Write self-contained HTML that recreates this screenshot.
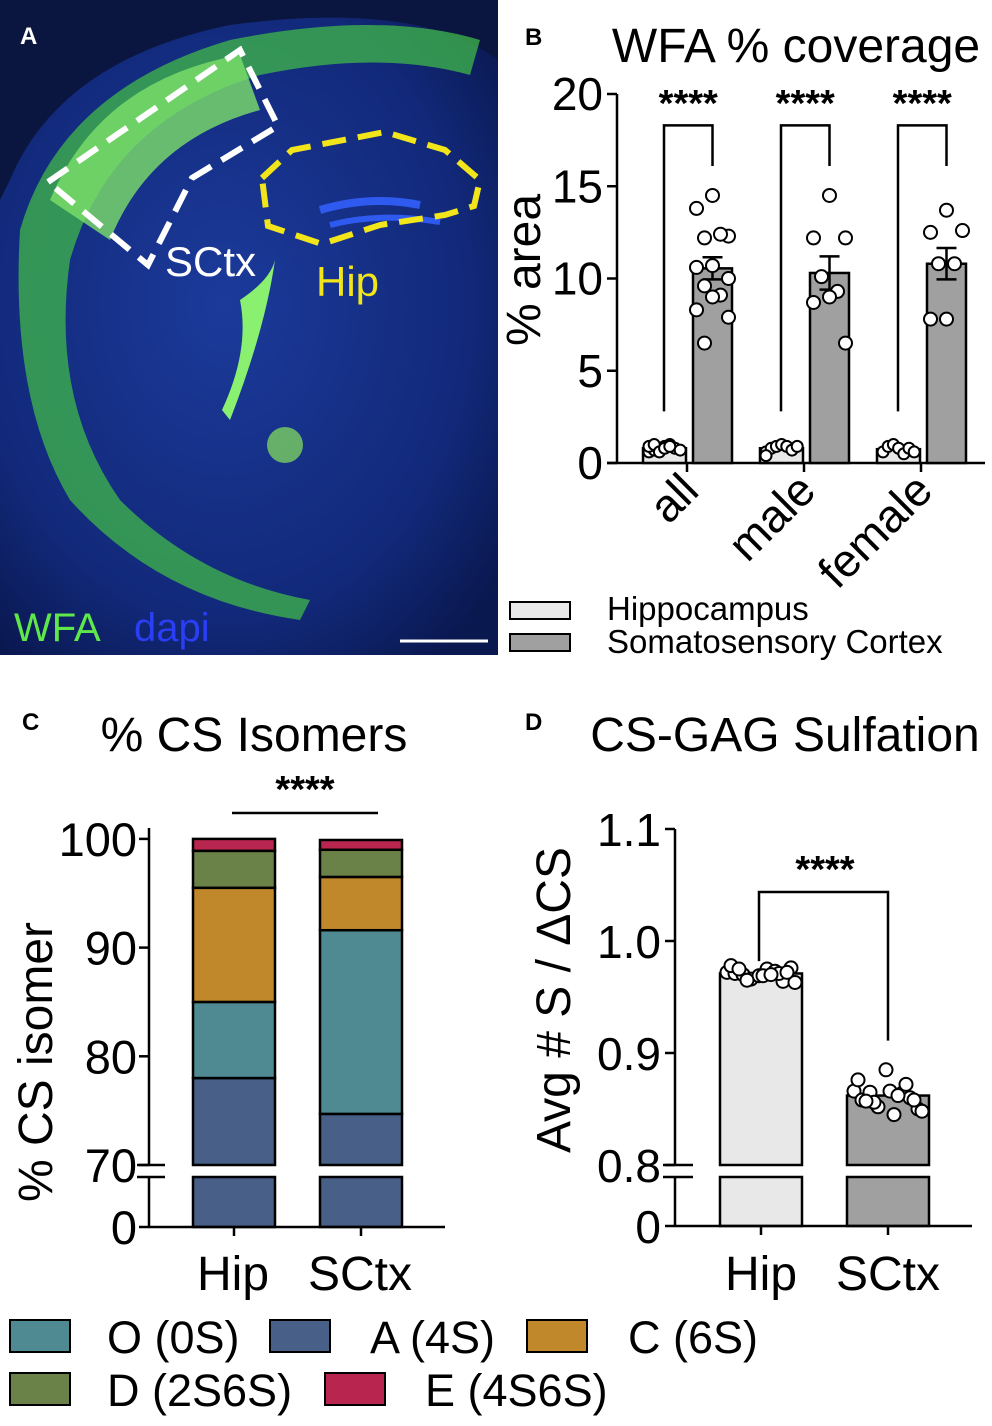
<!DOCTYPE html>
<html><head><meta charset="utf-8">
<style>
body{margin:0;background:#fff;width:992px;height:1426px;overflow:hidden;font-family:"Liberation Sans",sans-serif}
svg{position:absolute;left:0;top:0}
</style></head>
<body>
<svg id="fig" width="992" height="1426" viewBox="0 0 992 1426" xmlns="http://www.w3.org/2000/svg" font-family="Liberation Sans, DejaVu Sans, sans-serif">
<defs>
<radialGradient id="brain" cx="0.45" cy="0.45" r="0.7">
<stop offset="0" stop-color="#1b3a9a"/><stop offset="0.7" stop-color="#12297a"/><stop offset="1" stop-color="#0a1850"/>
</radialGradient>
</defs>
<g>
<rect x="0" y="0" width="498" height="655" fill="#0a163f"/>
<path d="M10,180 Q60,60 230,25 Q420,0 498,60 L498,655 L0,655 L0,200 Z" fill="url(#brain)"/>
<path d="M20,230 Q60,90 230,40 Q380,10 480,40 L470,75 Q380,50 260,75 Q110,120 70,260 Q50,400 120,500 Q200,580 310,600 L300,620 Q160,600 70,500 Q10,400 20,230 Z" fill="#3fb84a" opacity="0.75"/>
<path d="M50,200 Q100,80 240,55 L260,110 Q150,140 110,240 Z" fill="#7de06a" opacity="0.8"/>
<path d="M240,300 Q270,280 275,260 Q265,330 230,420 L222,410 Q250,350 240,300 Z" fill="#8af070"/>
<circle cx="285" cy="445" r="18" fill="#7bd060" opacity="0.8"/>
<path d="M320,210 Q370,195 420,205" stroke="#2f5af0" stroke-width="8" fill="none"/>
<path d="M330,225 Q380,212 440,222" stroke="#2f5af0" stroke-width="6" fill="none"/>
<path d="M48,182 L240,50 L278,126 L192,178 L148,265 Z" fill="none" stroke="#fff" stroke-width="6" stroke-dasharray="24,12"/>
<path d="M262,178 L292,150 L385,132 L445,150 L480,180 L474,206 L445,215 L380,225 L322,244 L268,226 Z" fill="none" stroke="#f2e51a" stroke-width="6" stroke-dasharray="24,12"/>
<text x="20" y="44" font-size="24" font-weight="bold" fill="#fff">A</text>
<text x="165" y="276" font-size="42" fill="#fff">SCtx</text>
<text x="316" y="296" font-size="42" fill="#f2e51a">Hip</text>
<text x="14" y="641" font-size="40" fill="#5fe84a">WFA</text>
<text x="134" y="641" font-size="40" fill="#2a3ef5">dapi</text>
<line x1="400" y1="641" x2="488" y2="641" stroke="#fff" stroke-width="3"/>
</g>
<g id="pb"></g>
<g id="pc"></g>
<g id="pd"></g>
</svg>
<script>
const NS="http://www.w3.org/2000/svg";
function mk(p,tag,a,txt){const e=document.createElementNS(NS,tag);for(const k in a)e.setAttribute(k,a[k]);if(txt!==undefined)e.textContent=txt;p.appendChild(e);return e;}

// ---------- Panel B data ----------
const bGroups=["all","male","female"];
const bHipMeans=[0.8,0.8,0.75];
const bCtxMeans=[10.55,10.3,10.8];
const bCtxSem=[0.6,0.9,0.85];
const bHipPts=[[0.6,0.7,0.8,0.9,1.0,0.8,0.7,0.9,1.0,0.6,0.8,0.9],[0.6,0.8,0.9,1.0,0.9,0.7,0.9,0.4],[0.6,0.9,1.0,0.8,0.5,0.8,0.6]];
const bCtxPts=[[14.5,13.8,12.3,12.2,12.4,10.7,10.6,10.0,9.6,9.1,9.0,8.3,7.9,6.5],[14.5,12.2,12.2,10.1,9.3,9.0,8.7,6.5],[13.7,12.5,12.6,10.8,10.8,7.8,7.8]];
const bTicks=[0,5,10,15,20];
const bSig=["****","****","****"];

// ---------- Panel C data ----------
const cCats=["Hip","SCtx"];
const cSeries=["A (4S)","O (0S)","C (6S)","D (2S6S)","E (4S6S)"];
const cA=[78.0,74.7];
const cO=[7.0,16.9];
const cC=[10.5,4.9];
const cD=[3.4,2.5];
const cE=[1.1,0.9];
const cTicks=[70,80,90,100];

// ---------- Panel D data ----------
const dCats=["Hip","SCtx"];
const dMeans=[0.971,0.862];
const dHipPts=[0.972,0.971,0.970,0.966,0.969,0.975,0.973,0.964,0.976,0.978,0.965,0.969,0.971,0.963,0.975,0.970,0.972];
const dCtxPts=[0.866,0.858,0.865,0.852,0.885,0.845,0.864,0.860,0.850,0.876,0.856,0.866,0.872,0.848,0.857,0.862,0.858];

const dTicks=[0.8,0.9,1.0,1.1];

// ===== Panel B =====
(function(){
const g=document.getElementById('pb');
const y0=463,k=18.45,ax=617;
const Y=v=>y0-v*k;
const tickX=[687,804,921];
const X=i=>tickX[i];
mk(g,'text',{x:525,y:45,'font-size':24,'font-weight':'bold',},'B');
mk(g,'text',{x:796,y:62,'font-size':48,'text-anchor':'middle',},'WFA % coverage');
mk(g,'line',{x1:ax,y1:Y(20),x2:ax,y2:y0,stroke:'#000','stroke-width':2.5,});
mk(g,'line',{x1:ax-10,y1:y0,x2:985,y2:y0,stroke:'#000','stroke-width':2.5,});
bTicks.forEach(t=>{
 const l=mk(g,'line',{x1:ax-10,y1:Y(t),x2:ax,y2:Y(t),stroke:'#000','stroke-width':2.5});
 
 
 const tx=mk(g,'text',{x:ax-14,y:Y(t)+16,'font-size':46,'text-anchor':'end'},String(t));
 
 
});
const yt=mk(g,'text',{x:0,y:0,'font-size':48,'text-anchor':'middle',transform:'translate(540,270) rotate(-90)'},'% area');


bGroups.forEach((grp,i)=>{
 const cx=X(i);
 const hx=cx-44, cxx=cx+6, w=43;
 const hb=mk(g,'rect',{x:hx,y:Y(bHipMeans[i]),width:w,height:y0-Y(bHipMeans[i]),fill:'#e8e8e8',stroke:'#000','stroke-width':2.5});
 
 
 const cb=mk(g,'rect',{x:cxx,y:Y(bCtxMeans[i]),width:w-4,height:y0-Y(bCtxMeans[i]),fill:'#a0a0a0',stroke:'#000','stroke-width':2.5});
 
 
 const mcx=cxx+(w-4)/2;
 const e1=Y(bCtxMeans[i]+bCtxSem[i]),e2=Y(bCtxMeans[i]-bCtxSem[i]);
 const eb=mk(g,'path',{d:`M${mcx},${e1}V${e2}M${mcx-10},${e1}H${mcx+10}M${mcx-10},${e2}H${mcx+10}`,stroke:'#000','stroke-width':2.5,fill:'none'});
 
 
 bHipPts[i].forEach((v,j)=>{
  const c=mk(g,'circle',{cx:hx+6+(j%7)*5.2,cy:Y(v),r:5.5,fill:'#fff',stroke:'#000','stroke-width':2});
  
  
 });
 bCtxPts[i].forEach((v,j)=>{
  const off=[0,-16,16,-8,8][j%5];
  const c=mk(g,'circle',{cx:mcx+off,cy:Y(v),r:6.5,fill:'#fff',stroke:'#000','stroke-width':2});
  
  
 });
 const lx=hx+21, rx=mcx;
 const br=mk(g,'path',{d:`M${lx},${Y(2.8)}V${Y(18.3)}H${rx}V${Y(16.1)}`,stroke:'#000','stroke-width':2.5,fill:'none'});
 
 
 const st=mk(g,'text',{x:(lx+rx)/2,y:116,'font-size':38,'font-weight':'bold','text-anchor':'middle'},bSig[i]);
 
 
 const tk=mk(g,'line',{x1:cx,y1:y0,x2:cx,y2:y0+9,stroke:'#000','stroke-width':2.5});
 
 
 const xl=mk(g,'text',{x:0,y:0,'font-size':46,'text-anchor':'end',transform:`translate(${cx+14},${y0+30}) rotate(-45)`},grp);
 
 
});
mk(g,'rect',{x:510,y:602,width:60,height:17,fill:'#e8e8e8',stroke:'#000','stroke-width':2,});
mk(g,'text',{x:607,y:620,'font-size':33,},'Hippocampus');
mk(g,'rect',{x:510,y:634,width:60,height:17,fill:'#a0a0a0',stroke:'#000','stroke-width':2,});
mk(g,'text',{x:607,y:653,'font-size':33,},'Somatosensory Cortex');
})();

// ===== Panel C =====
(function(){
const g=document.getElementById('pc');
const ax=149,yTop=838,k=10.87,yBreak=1165,y0=1227,yBot=1177;
const Y=v=>yBreak-(v-70)*k;
const barX=[193,320],bw=82;
const colors={"A (4S)":"#485f87","O (0S)":"#4f8991","C (6S)":"#c0882a","D (2S6S)":"#6a8248","E (4S6S)":"#b8264f"};
const vals=[cA,cO,cC,cD,cE];
mk(g,'text',{x:22,y:730,'font-size':24,'font-weight':'bold',},'C');
mk(g,'text',{x:254,y:751,'font-size':48,'text-anchor':'middle',},'% CS Isomers');
mk(g,'text',{x:305,y:802,'font-size':38,'font-weight':'bold','text-anchor':'middle',},'****');
mk(g,'line',{x1:232,y1:813,x2:378,y2:813,stroke:'#000','stroke-width':2.5,});
cCats.forEach((cat,i)=>{
 let cum=0;
 vals.forEach((arr,s)=>{
  const lo=cum,hi=cum+arr[i];cum=hi;
  const yTopSeg=Y(hi), yLoSeg=lo<70?yBreak:Y(lo);
  const r=mk(g,'rect',{x:barX[i],y:yTopSeg,width:bw,height:yLoSeg-yTopSeg,fill:colors[cSeries[s]],stroke:'#000','stroke-width':2.5});
  
  
  if(s<4){
   const mx=barX[i]+bw/2, ey=Y(hi)-3;
   const e=mk(g,'path',{d:`M${mx-14},${ey}H${mx+14}M${mx},${ey}V${Y(hi)}`,stroke:'#000','stroke-width':2.5});
   
   
  }
 });
 const lower=mk(g,'rect',{x:barX[i],y:yBot,width:bw,height:y0-yBot,fill:colors["A (4S)"],stroke:'#000','stroke-width':2.5});
 
 
 const tk=mk(g,'line',{x1:barX[i]+bw/2,y1:y0,x2:barX[i]+bw/2,y2:y0+9,stroke:'#000','stroke-width':2.5});
 
 
 const xl=mk(g,'text',{x:barX[i]+bw/2-1,y:1290,'font-size':48,'text-anchor':'middle'},cat);
 
 
});
mk(g,'path',{d:`M${ax},${yTop-10}V${yBreak}M${ax},${yBot}V${y0}`,stroke:'#000','stroke-width':2.5,fill:'none',});
mk(g,'path',{d:`M${ax-12},${yBreak}H${ax+16}M${ax-12},${yBot}H${ax+16}`,stroke:'#000','stroke-width':2.5,});
mk(g,'line',{x1:ax-10,y1:y0,x2:445,y2:y0,stroke:'#000','stroke-width':2.5,});
cTicks.forEach(t=>{
 const l=mk(g,'line',{x1:ax-10,y1:Y(t),x2:ax,y2:Y(t),stroke:'#000','stroke-width':2.5});
 
 
 const tx=mk(g,'text',{x:ax-12,y:Y(t)+17,'font-size':47,'text-anchor':'end'},String(t));
 
 
});
mk(g,'text',{x:ax-12,y:y0+17,'font-size':47,'text-anchor':'end',},'0');
const yt=mk(g,'text',{x:0,y:0,'font-size':48,'text-anchor':'middle',transform:'translate(52,1062) rotate(-90)'},'% CS isomer');


const leg=[["O (0S)",10,1320,107],["A (4S)",270,1320,370],["C (6S)",527,1320,628],["D (2S6S)",10,1373,107],["E (4S6S)",325,1373,425]];
leg.forEach(([n,bx,by,tx])=>{
 const r=mk(g,'rect',{x:bx,y:by,width:60,height:32,fill:colors[n],stroke:'#000','stroke-width':2});
 
 
 const t=mk(g,'text',{x:tx,y:by+33,'font-size':45},n);
 
 
});
})();

// ===== Panel D =====
(function(){
const g=document.getElementById('pd');
const ax=675,yBreak=1165,yBot=1177,y0=1226,k=1120;
const Y=v=>yBreak-(v-0.8)*k;
const barX=[720,847],bw=82,fills=['#e8e8e8','#a0a0a0'];
const pts=[dHipPts,dCtxPts];
const jit=[-34,-26,-18,-10,-2,6,14,22,30,-30,-14,2,18,34,-22,10,26];
mk(g,'text',{x:525,y:730,'font-size':24,'font-weight':'bold',},'D');
mk(g,'text',{x:785,y:751,'font-size':48,'text-anchor':'middle',},'CS-GAG Sulfation');
dCats.forEach((cat,i)=>{
 const r=mk(g,'rect',{x:barX[i],y:Y(dMeans[i]),width:bw,height:yBreak-Y(dMeans[i]),fill:fills[i],stroke:'#000','stroke-width':2.5});
 
 
 const r2=mk(g,'rect',{x:barX[i],y:yBot,width:bw,height:y0-yBot,fill:fills[i],stroke:'#000','stroke-width':2.5});
 
 
 pts[i].forEach((v,j)=>{
  const c=mk(g,'circle',{cx:barX[i]+bw/2+jit[j%jit.length],cy:Y(v),r:6.5,fill:'#fff',stroke:'#000','stroke-width':2});
  
  
 });
 const tk=mk(g,'line',{x1:barX[i]+bw/2,y1:y0,x2:barX[i]+bw/2,y2:y0+9,stroke:'#000','stroke-width':2.5});
 
 
 const xl=mk(g,'text',{x:barX[i]+bw/2,y:1290,'font-size':48,'text-anchor':'middle'},cat);
 
 
});
mk(g,'path',{d:`M759,${Y(0.982)}V892H888V${Y(0.911)}`,stroke:'#000','stroke-width':2.5,fill:'none',});
mk(g,'text',{x:825,y:882,'font-size':38,'font-weight':'bold','text-anchor':'middle',},'****');
mk(g,'path',{d:`M${ax},${Y(1.1)}V${yBreak}M${ax},${yBot}V${y0}`,stroke:'#000','stroke-width':2.5,fill:'none',});
mk(g,'path',{d:`M${ax-12},${yBreak}H${ax+18}M${ax-12},${yBot}H${ax+18}`,stroke:'#000','stroke-width':2.5,});
mk(g,'line',{x1:ax-10,y1:y0,x2:972,y2:y0,stroke:'#000','stroke-width':2.5,});
dTicks.forEach(t=>{
 const l=mk(g,'line',{x1:ax-10,y1:Y(t),x2:ax,y2:Y(t),stroke:'#000','stroke-width':2.5});
 
 
 const tx=mk(g,'text',{x:ax-14,y:Y(t)+17,'font-size':46,'text-anchor':'end'},t.toFixed(1));
 
 
});
mk(g,'text',{x:ax-14,y:y0+17,'font-size':46,'text-anchor':'end',},'0');
const yt=mk(g,'text',{x:0,y:0,'font-size':48,'text-anchor':'middle',transform:'translate(570,1000) rotate(-90)'},'Avg # S / ΔCS');


})();
</script>
</body></html>
